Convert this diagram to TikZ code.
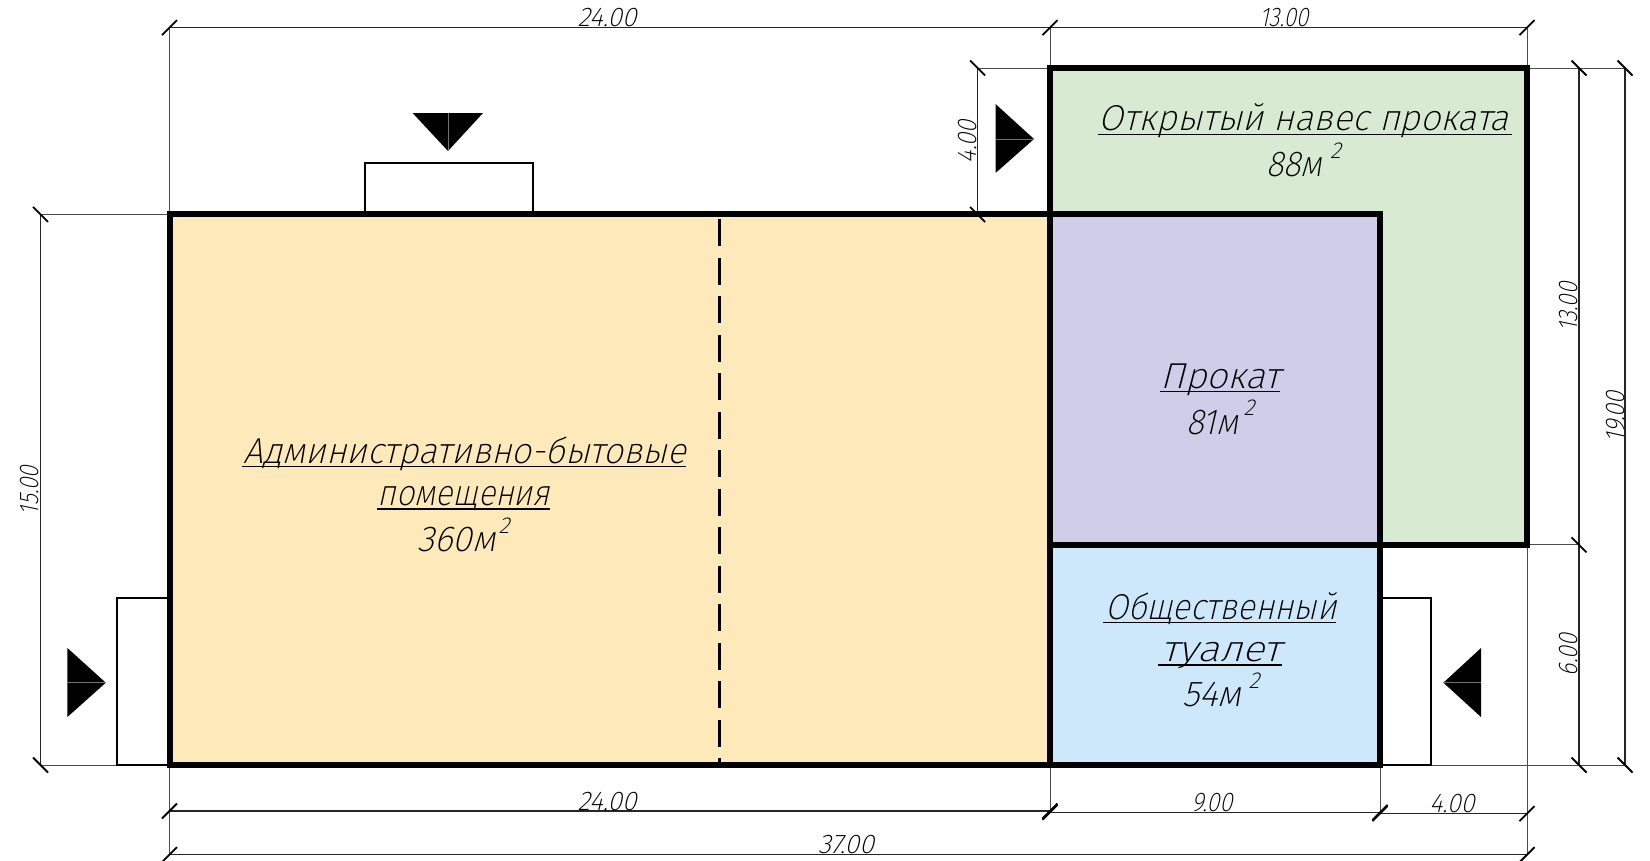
\documentclass[tikz,border=0pt]{standalone}
\usepackage{fontspec}
\newfontfamily\gost[FakeSlant=0.25]{Fira Sans ExtraLight}
\newcommand{\fitw}[2]{\resizebox{#1pt}{\height}{#2}}
\definecolor{cOrange}{HTML}{FDE9B9}
\definecolor{cGreen}{HTML}{D8EBD2}
\definecolor{cPurple}{HTML}{CFCDE8}
\definecolor{cBlue}{HTML}{CCE8FA}
\tikzset{
  wall/.style={draw=black,line width=6pt,line join=miter},
  porch/.style={draw=black,line width=2pt,fill=white},
  dimline/.style={draw=black!85,line width=1.1pt},
  extline/.style={draw=black!70,line width=1pt},
  tickmark/.style={draw=black,line width=1.8pt},
  arrowtri/.style={fill=black,draw=none},
  midline/.style={draw=black!55,line width=.5pt},
  dimtext/.style={inner sep=0pt,outer sep=0pt,anchor=base,font=\gost\fontsize{27}{27}\selectfont},
  roomtext/.style={inner sep=0pt,outer sep=0pt,anchor=base,font=\gost\fontsize{36}{36}\selectfont},
  suptext/.style={inner sep=0pt,outer sep=0pt,anchor=base,font=\gost\fontsize{23}{23}\selectfont},
  uline/.style={draw=black,line width=1.4pt},
}
\begin{document}
\begin{tikzpicture}[x=1pt,y=-1pt]
\useasboundingbox (0,0) rectangle (1650,860);
% plan grid
\coordinate (L) at (169.5,214.4);
\coordinate (M) at (1050,214.4);
\coordinate (R) at (1380,214.4);
\coordinate (GT) at (1050,68);
\coordinate (GR) at (1527,68);
\coordinate (GB) at (1527,544.8);
\coordinate (PB) at (1380,544.8);
\coordinate (PL) at (1050,544.8);
\coordinate (BL) at (169.5,765);
\coordinate (BM) at (1050,765);
\coordinate (BR) at (1380,765);
\coordinate (DT) at (719.5,214.4);
\coordinate (DB) at (719.5,765);
% dimension ends
\coordinate (t1) at (169.5,27.7);
\coordinate (t2) at (1050,27.7);
\coordinate (t3) at (1527,27.7);
\coordinate (l1) at (40.5,214.4);
\coordinate (l2) at (40.5,765);
\coordinate (f1) at (977.6,68);
\coordinate (f2) at (977.6,214.4);
\coordinate (r1) at (1579,68);
\coordinate (r2) at (1579,544.8);
\coordinate (r3) at (1579,765);
\coordinate (s1) at (1625,68);
\coordinate (s2) at (1625,765);
\coordinate (b1) at (169.5,811);
\coordinate (b2) at (1050,811);
\coordinate (c1) at (1050,812.3);
\coordinate (c2) at (1380,812.3);
\coordinate (d1) at (1380,813.7);
\coordinate (d2) at (1527,813.7);
\coordinate (e1) at (169.5,854.7);
\coordinate (e2) at (1527,854.7);
% extension lines
\draw[extline] (t1) -- (e1);
\draw[extline] (t2) -- (GT);
\draw[extline] (t3) -- (e2);
\draw[extline] (BM) -- (c1);
\draw[extline] (BR) -- (d1);
\draw[extline] (l1) -- (L);
\draw[extline] (l2) -- (s2);
\draw[extline] (f1) -- (GT);
\draw[extline] (GR) -- (s1);
\draw[extline] (GB) -- (r2);
% dimension lines
\draw[dimline] (t1) -- (t2);
\draw[dimline] (t2) -- (t3);
\draw[dimline] (l1) -- (l2);
\draw[dimline] (f1) -- (f2);
\draw[dimline] (r1) -- (r2);
\draw[dimline] (r2) -- (r3);
\draw[dimline] (s1) -- (s2);
\draw[dimline] (b1) -- (b2);
\draw[dimline] (c1) -- (c2);
\draw[dimline] (d1) -- (d2);
\draw[dimline] (e1) -- (e2);
% porches
\draw[porch] (365,214.4) -- (365,163) -- (533,163) -- (533,214.4);
\draw[porch] (169.5,598) -- (117,598) -- (117,765) -- (169.5,765);
\draw[porch] (1380,598) -- (1431,598) -- (1431,765) -- (1380,765);
% rooms
\fill[cOrange] (L) rectangle (BM);
\fill[cPurple] (M) rectangle (PB);
\fill[cBlue] (PL) rectangle (BR);
\fill[cGreen] (GT) -- (GR) -- (GB) -- (PB) -- (R) -- (M) -- cycle;
\draw[draw=black,line width=2.2pt,dash pattern=on 27pt off 11.5pt,dash phase=-5pt] (DT) -- (DB);
\draw[wall] (L) rectangle (BM);
\draw[wall] (M) rectangle (PB);
\draw[wall] (PL) rectangle (BR);
\draw[wall] (GT) -- (GR) -- (GB) -- (PB) -- (R) -- (M) -- cycle;
% ticks
\foreach \p in {t1,t2,t3,b1,b2,c1,c2,d1,d2,e1,e2}
  \draw[tickmark,shift={(\p)}] (-7.5,7.5) -- (7.5,-7.5);
\foreach \p in {l1,l2,f1,f2,r1,r2,r3,s1,s2}
  \draw[tickmark,shift={(\p)}] (-7.5,-7.5) -- (7.5,7.5);
% view arrows
\fill[arrowtri] (412.6,113) -- (483,113) -- (448,151) -- cycle;
\draw[midline] (448,113) -- (448,151);
\fill[arrowtri] (67.4,648) -- (105.8,682.7) -- (67.4,717) -- cycle;
\draw[midline] (67.4,682.7) -- (105.8,682.7);
\fill[arrowtri] (995.5,104) -- (1034,139) -- (995.5,173) -- cycle;
\draw[midline] (995.5,139) -- (1034,139);
\fill[arrowtri] (1481,648) -- (1443.4,682.7) -- (1481,717) -- cycle;
\draw[midline] (1481,682.7) -- (1443.4,682.7);
% dimension numbers
\node[dimtext] (dA) at (607,26) {\fitw{59}{24.00}};
\node[dimtext] (dB) at (1284,26) {\fitw{49}{13.00}};
\node[dimtext] (dC) at (607,810) {\fitw{59}{24.00}};
\node[dimtext] (dD) at (1212,811) {\fitw{41}{9.00}};
\node[dimtext] (dE) at (1452,812) {\fitw{45}{4.00}};
\node[dimtext] (dF) at (846,853) {\fitw{56}{37.00}};
\node[dimtext,rotate=90] (dG) at (38.5,490.5) {\fitw{49}{15.00}};
\node[dimtext,rotate=90] (dH) at (976,141.5) {\fitw{43}{4.00}};
\node[dimtext,rotate=90] (dI) at (1577.5,307) {\fitw{49}{13.00}};
\node[dimtext,rotate=90] (dJ) at (1577.5,655) {\fitw{42}{6.00}};
\node[dimtext,rotate=90] (dK) at (1624,417) {\fitw{51}{19.00}};
% room labels
\node[roomtext] (a1) at (465,463) {\fitw{442}{Административно-бытовые}};
\draw[uline] (241.6,466.7) -- (686,466.7);
\node[roomtext] (a2) at (464,505.5) {\fitw{172}{помещения}};
\draw[uline] (377,509) -- (550,509);
\node[roomtext] (a3) at (456.5,551) {\fitw{78}{360м}};
\node[suptext] (a4) at (504,533) {2};
\node[roomtext] (g1) at (1304,130) {\fitw{410}{Открытый навес проката}};
\draw[uline] (1098,134.7) -- (1512,134.7);
\node[roomtext] (g2) at (1294,176.5) {\fitw{56}{88м}};
\node[suptext] (g3) at (1335.5,158) {2};
\node[roomtext] (p1) at (1220.5,388) {\fitw{120}{Прокат}};
\draw[uline] (1160,391.7) -- (1280,391.7);
\node[roomtext] (p2) at (1212,434) {\fitw{52}{81м}};
\node[suptext] (p3) at (1249,415) {2};
\node[roomtext] (w1) at (1221,619) {\fitw{231}{Общественный}};
\draw[uline] (1103,622.7) -- (1336,622.7);
\node[roomtext] (w2) at (1221,661.5) {\fitw{120}{туалет}};
\draw[uline] (1158,665) -- (1282,665);
\node[roomtext] (w3) at (1211.5,706.5) {\fitw{59}{54м}};
\node[suptext] (w4) at (1254,688) {2};
\end{tikzpicture}
\end{document}
